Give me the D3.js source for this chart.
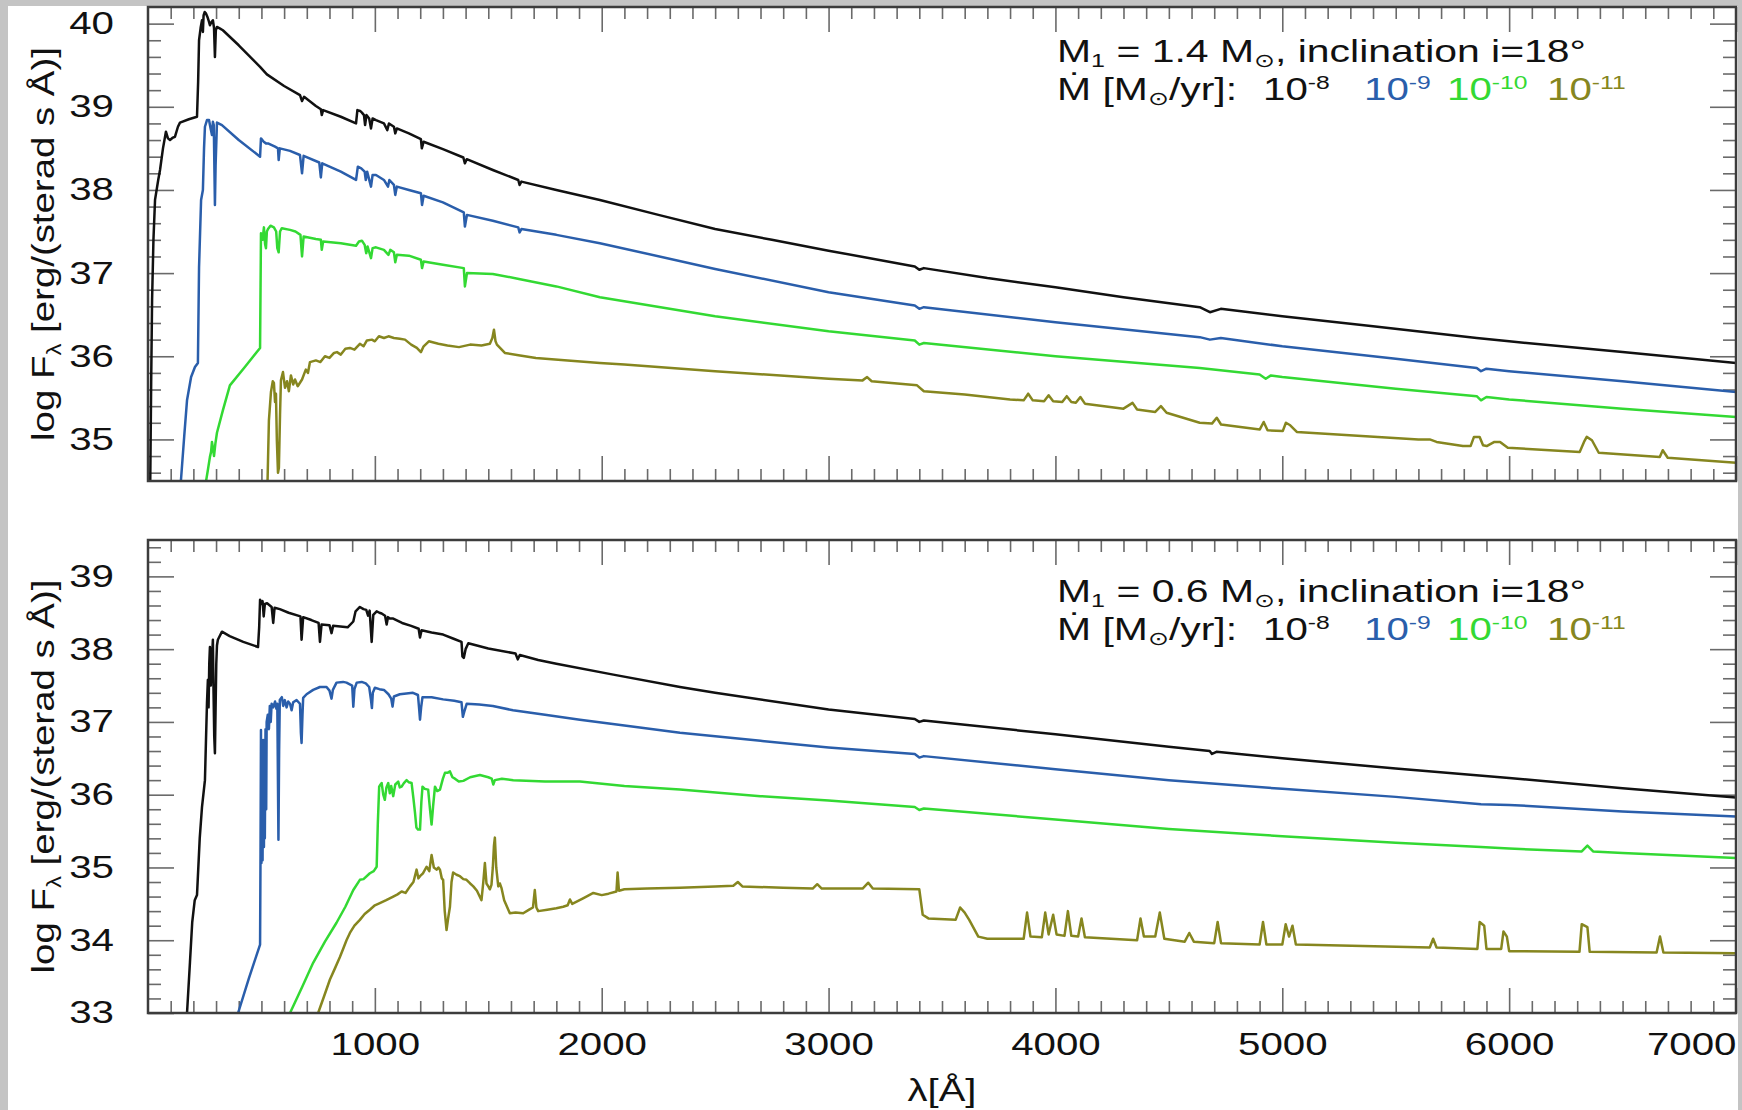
<!DOCTYPE html>
<html>
<head>
<meta charset="utf-8">
<script src="https://cdnjs.cloudflare.com/ajax/libs/d3/7.8.5/d3.min.js"></script>
<style>
    html, body { margin: 0; padding: 0; background: #c4c4c4; }
    svg { display: block; }
    text { font-family: 'Liberation Sans', Arial, sans-serif; fill: #111; }
</style>
</head>
<body>
<svg id="chart"></svg>
<script>
// tick values and labels
const wavelengthTicks = [1000, 2000, 3000, 4000, 5000, 6000, 7000];
const wavelengthLabels = ['1000', '2000', '3000', '4000', '5000', '6000', '7000'];
const topFluxTicks = [35, 36, 37, 38, 39, 40];
const bottomFluxTicks = [33, 34, 35, 36, 37, 38, 39];
const rateExponents = ['-8', '-9', '-10', '-11'];
const panelMasses = ['1.4', '0.6'];

// M1 = 1.4 Msun, [lambda (A), log F]
const top_e8 = [[10,34.5],[14,35.7],[18,36.68],[24,37.4],[31,37.88],[45,38.12],[53,38.24],[66,38.5],[79,38.7],[88,38.62],[97,38.6],[110,38.63],[119,38.64],[132,38.76],[141,38.81],[180,38.85],[216,38.88],[221,39.3],[225,39.8],[232,39.95],[238,40.04],[242,39.9],[245,40.1],[250,40.14],[256,40.12],[262,40.08],[268,40.03],[273,39.98],[280,40.02],[286,40.04],[291,39.95],[295,39.6],[299,39.92],[304,39.96],[318,39.94],[330,39.92],[400,39.74],[494,39.48],[524,39.39],[600,39.25],[670,39.14],[679,39.07],[688,39.12],[740,39.01],[762,38.97],[766,38.9],[772,38.96],[850,38.88],[917,38.8],[923,38.96],[935,38.95],[943,38.93],[952,38.9],[957,38.78],[963,38.9],[975,38.86],[983,38.74],[990,38.86],[1005,38.84],[1040,38.8],[1055,38.72],[1062,38.8],[1084,38.76],[1090,38.68],[1097,38.74],[1150,38.68],[1203,38.61],[1207,38.5],[1215,38.58],[1300,38.49],[1390,38.39],[1397,38.32],[1405,38.37],[1520,38.24],[1632,38.12],[1638,38.06],[1646,38.1],[1800,38.0],[1992,37.88],[2250,37.7],[2500,37.53],[2750,37.4],[3000,37.27],[3380,37.08],[3400,37.04],[3420,37.06],[3700,36.94],[4000,36.83],[4300,36.71],[4636,36.59],[4681,36.53],[4729,36.57],[5000,36.48],[5400,36.36],[5857,36.22],[6000,36.18],[6500,36.05],[7000,35.92]];
const top_e9 = [[145,34.5],[160,35.05],[172,35.47],[190,35.75],[207,35.87],[220,35.92],[225,37.07],[234,37.88],[242,38.0],[247,38.5],[251,38.76],[260,38.84],[269,38.84],[276,38.74],[282,38.66],[286,38.82],[290,38.78],[293,38.2],[295,37.82],[298,38.3],[304,38.81],[326,38.78],[400,38.6],[494,38.4],[498,38.62],[510,38.58],[520,38.56],[529,38.56],[560,38.52],[573,38.5],[576,38.36],[581,38.5],[626,38.47],[670,38.42],[679,38.2],[686,38.41],[755,38.33],[762,38.15],[768,38.32],[850,38.22],[917,38.12],[925,38.28],[940,38.26],[955,38.22],[960,38.12],[966,38.22],[983,38.04],[990,38.18],[1005,38.18],[1040,38.12],[1058,38.04],[1064,38.12],[1084,38.06],[1090,37.94],[1097,38.04],[1150,38.0],[1203,37.96],[1208,37.82],[1215,37.93],[1300,37.85],[1392,37.73],[1397,37.56],[1406,37.7],[1520,37.63],[1632,37.55],[1638,37.49],[1646,37.53],[1800,37.46],[1992,37.36],[2500,37.05],[3000,36.77],[3380,36.61],[3400,36.57],[3420,36.59],[4000,36.41],[4636,36.23],[4681,36.2],[4729,36.22],[5000,36.12],[5500,35.97],[5857,35.86],[5876,35.82],[5900,35.85],[6000,35.82],[6500,35.7],[7000,35.57]];
const top_e10 = [[256,34.5],[265,34.65],[273,34.79],[278,34.85],[282,34.97],[286,34.9],[291,34.8],[297,34.95],[304,35.08],[330,35.35],[361,35.65],[427,35.87],[494,36.1],[498,37.48],[505,37.4],[511,37.55],[516,37.35],[520,37.3],[524,37.5],[529,37.53],[540,37.57],[555,37.55],[565,37.5],[570,37.3],[576,37.25],[582,37.5],[590,37.54],[626,37.52],[650,37.5],[672,37.46],[679,37.2],[686,37.44],[740,37.41],[762,37.4],[766,37.28],[772,37.38],[850,37.36],[917,37.33],[930,37.38],[943,37.39],[955,37.34],[962,37.24],[968,37.32],[983,37.18],[990,37.3],[1005,37.31],[1040,37.28],[1060,37.22],[1068,37.28],[1084,37.25],[1090,37.13],[1097,37.22],[1150,37.21],[1203,37.16],[1208,37.06],[1215,37.14],[1300,37.1],[1392,37.06],[1397,36.84],[1406,37.0],[1520,36.99],[1635,36.93],[1800,36.84],[1992,36.71],[2500,36.48],[3000,36.3],[3380,36.19],[3400,36.14],[3420,36.16],[4000,36.0],[4636,35.86],[4900,35.78],[4927,35.73],[4950,35.77],[5000,35.75],[5500,35.61],[5857,35.52],[5876,35.47],[5900,35.51],[6000,35.48],[6500,35.37],[7000,35.27]];
const top_e11 = [[527,34.5],[533,35.23],[542,35.57],[550,35.7],[555,35.68],[560,35.45],[564,35.55],[568,34.99],[573,34.6],[577,34.66],[582,35.3],[586,35.71],[595,35.81],[604,35.62],[613,35.7],[621,35.58],[630,35.77],[640,35.66],[648,35.72],[660,35.64],[679,35.72],[690,35.8],[696,35.84],[705,35.8],[714,35.93],[740,35.95],[760,35.93],[780,36.0],[800,35.98],[820,36.04],[833,36.05],[850,36.02],[870,36.09],[890,36.1],[910,36.08],[934,36.15],[950,36.12],[965,36.19],[987,36.2],[1000,36.18],[1018,36.24],[1040,36.22],[1060,36.24],[1084,36.22],[1110,36.21],[1133,36.2],[1160,36.14],[1185,36.1],[1203,36.05],[1215,36.12],[1238,36.18],[1280,36.15],[1320,36.13],[1371,36.11],[1420,36.14],[1470,36.13],[1507,36.15],[1518,36.22],[1525,36.32],[1532,36.18],[1538,36.14],[1573,36.04],[1640,36.01],[1710,35.98],[1850,35.95],[1992,35.92],[2100,35.9],[2500,35.82],[3000,35.73],[3150,35.71],[3170,35.75],[3190,35.7],[3390,35.65],[3420,35.58],[3600,35.54],[3800,35.48],[3860,35.47],[3880,35.55],[3900,35.47],[3950,35.46],[3970,35.53],[3990,35.46],[4030,35.45],[4050,35.52],[4070,35.45],[4090,35.44],[4110,35.51],[4130,35.43],[4300,35.37],[4340,35.44],[4360,35.36],[4440,35.33],[4465,35.4],[4490,35.32],[4636,35.2],[4690,35.19],[4711,35.26],[4730,35.18],[4901,35.12],[4918,35.21],[4935,35.11],[5002,35.1],[5016,35.2],[5035,35.17],[5064,35.09],[5600,35.0],[5650,35.0],[5680,34.97],[5796,34.92],[5830,34.92],[5845,35.03],[5870,35.03],[5885,34.93],[5901,34.92],[5935,34.97],[5960,34.97],[5994,34.9],[6311,34.85],[6330,34.97],[6342,35.03],[6365,34.99],[6395,34.84],[6664,34.79],[6677,34.87],[6699,34.78],[7000,34.72]];

// M1 = 0.6 Msun, [lambda (A), log F]
const bot_e8 = [[172,33.0],[185,33.7],[195,34.25],[206,34.55],[216,34.62],[228,35.4],[238,35.83],[251,36.2],[256,36.8],[260,37.26],[264,37.58],[267,37.2],[270,37.8],[273,38.03],[277,37.5],[280,37.9],[284,38.0],[286,38.13],[289,37.4],[292,36.8],[295,36.57],[298,37.2],[301,37.8],[304,38.05],[308,38.13],[326,38.24],[360,38.18],[420,38.1],[485,38.03],[490,38.3],[494,38.68],[500,38.62],[505,38.66],[510,38.45],[515,38.62],[525,38.63],[537,38.6],[545,38.58],[552,38.36],[558,38.57],[581,38.55],[620,38.5],[672,38.45],[677,38.13],[684,38.44],[720,38.4],[752,38.36],[758,38.1],[765,38.34],[800,38.33],[809,38.22],[816,38.32],[880,38.3],[905,38.38],[915,38.52],[934,38.58],[950,38.55],[962,38.54],[970,38.46],[977,38.53],[986,38.1],[993,38.47],[1008,38.52],[1020,38.5],[1030,38.49],[1045,38.46],[1052,38.34],[1058,38.44],[1066,38.42],[1081,38.42],[1120,38.36],[1160,38.32],[1193,38.28],[1199,38.16],[1206,38.26],[1250,38.23],[1301,38.2],[1350,38.14],[1382,38.1],[1386,37.9],[1392,37.88],[1400,38.0],[1412,38.08],[1500,38.01],[1620,37.94],[1630,37.86],[1639,37.92],[1720,37.85],[1800,37.8],[2051,37.65],[2345,37.48],[2500,37.4],[3000,37.17],[3380,37.04],[3400,37.0],[3420,37.02],[4000,36.83],[4500,36.66],[4680,36.6],[4690,36.56],[4710,36.59],[5000,36.5],[5500,36.36],[6000,36.23],[6500,36.09],[7000,35.96]];
const bot_e9 = [[397,33.0],[445,33.48],[494,33.94],[496,35.2],[498,36.89],[500,35.06],[503,36.6],[505,35.1],[508,36.75],[511,35.28],[513,36.5],[515,35.4],[518,36.9],[521,35.8],[523,37.0],[528,37.1],[533,36.9],[537,37.22],[541,37.0],[545,37.25],[552,37.2],[560,37.28],[566,37.18],[570,37.25],[572,36.5],[575,35.38],[578,36.6],[581,37.3],[590,37.34],[596,37.22],[603,37.3],[611,37.2],[618,37.28],[626,37.25],[633,37.16],[640,37.27],[655,37.3],[670,37.25],[674,36.85],[677,36.71],[681,37.1],[684,37.33],[699,37.38],[728,37.44],[758,37.48],[787,37.48],[800,37.43],[809,37.32],[815,37.44],[831,37.54],[860,37.55],[875,37.54],[900,37.5],[905,37.21],[910,37.45],[920,37.54],[942,37.55],[960,37.53],[975,37.48],[983,37.3],[987,37.19],[991,37.4],[1000,37.47],[1020,37.45],[1040,37.44],[1060,37.38],[1072,37.32],[1078,37.21],[1084,37.35],[1110,37.38],[1168,37.4],[1190,37.37],[1196,37.15],[1199,37.03],[1204,37.2],[1210,37.34],[1250,37.34],[1301,37.31],[1350,37.29],[1382,37.27],[1388,37.07],[1395,37.15],[1405,37.25],[1460,37.24],[1520,37.22],[1609,37.16],[1750,37.1],[1904,37.03],[2100,36.95],[2345,36.85],[2700,36.74],[3000,36.65],[3380,36.56],[3400,36.51],[3420,36.53],[4000,36.35],[4500,36.2],[5000,36.08],[5500,35.97],[5876,35.87],[6000,35.86],[6500,35.77],[7000,35.7]];
const bot_e10 = [[626,33.0],[680,33.36],[728,33.69],[780,33.98],[831,34.24],[870,34.46],[905,34.69],[934,34.83],[950,34.84],[978,34.92],[995,34.95],[1008,35.01],[1013,35.6],[1019,36.11],[1025,36.14],[1030,36.16],[1037,36.0],[1044,35.93],[1051,36.1],[1059,36.16],[1066,36.02],[1072,36.12],[1081,35.98],[1090,36.14],[1103,36.18],[1110,36.1],[1118,36.11],[1128,36.16],[1140,36.2],[1150,36.17],[1162,36.16],[1170,35.95],[1177,35.75],[1183,35.55],[1190,35.52],[1199,35.52],[1205,35.9],[1210,36.11],[1220,36.08],[1235,36.07],[1243,35.8],[1250,35.59],[1257,35.85],[1265,36.11],[1275,36.05],[1287,36.07],[1300,36.22],[1309,36.3],[1320,36.3],[1331,36.32],[1342,36.24],[1353,36.22],[1370,36.18],[1390,36.19],[1420,36.24],[1463,36.27],[1500,36.24],[1515,36.22],[1522,36.14],[1529,36.2],[1560,36.22],[1610,36.2],[1750,36.18],[1904,36.18],[2100,36.12],[2345,36.07],[2700,35.98],[3000,35.92],[3380,35.83],[3400,35.79],[3420,35.81],[4000,35.66],[4500,35.53],[5000,35.43],[5500,35.34],[5876,35.28],[6000,35.26],[6320,35.22],[6345,35.3],[6370,35.22],[6500,35.2],[7000,35.13]];
const bot_e11 = [[750,33.0],[775,33.22],[802,33.46],[825,33.62],[846,33.77],[860,33.88],[875,34.0],[890,34.1],[910,34.2],[934,34.28],[955,34.36],[978,34.42],[1000,34.48],[1022,34.51],[1050,34.55],[1081,34.6],[1100,34.63],[1118,34.67],[1135,34.65],[1155,34.74],[1170,34.8],[1184,34.97],[1192,34.85],[1199,34.88],[1212,34.92],[1228,35.01],[1240,34.95],[1250,35.17],[1260,35.0],[1272,34.97],[1280,35.0],[1287,34.97],[1295,34.85],[1301,34.83],[1308,34.4],[1316,34.14],[1323,34.3],[1331,34.46],[1338,34.8],[1345,34.93],[1360,34.9],[1375,34.88],[1390,34.84],[1404,34.83],[1420,34.78],[1434,34.74],[1450,34.68],[1470,34.55],[1478,34.8],[1485,35.06],[1492,34.78],[1500,34.74],[1507,34.7],[1514,34.76],[1520,35.0],[1525,35.3],[1529,35.41],[1535,35.0],[1544,34.74],[1551,34.78],[1558,34.72],[1570,34.55],[1595,34.37],[1620,34.38],[1654,34.37],[1680,34.42],[1697,34.45],[1705,34.69],[1712,34.45],[1720,34.4],[1760,34.42],[1800,34.44],[1830,34.46],[1850,34.48],[1860,34.56],[1870,34.5],[1920,34.58],[1963,34.65],[2000,34.62],[2030,34.64],[2065,34.67],[2070,34.93],[2076,34.68],[2100,34.7],[2200,34.71],[2345,34.72],[2500,34.74],[2580,34.75],[2600,34.8],[2620,34.74],[2800,34.72],[2930,34.71],[2950,34.77],[2970,34.71],[3150,34.71],[3175,34.79],[3195,34.71],[3400,34.7],[3415,34.35],[3440,34.3],[3560,34.28],[3580,34.45],[3600,34.38],[3620,34.28],[3660,34.05],[3700,34.02],[3860,34.02],[3875,34.38],[3890,34.05],[3940,34.04],[3955,34.38],[3970,34.08],[3990,34.35],[4005,34.08],[4040,34.06],[4055,34.4],[4070,34.06],[4100,34.05],[4115,34.3],[4130,34.04],[4360,34.0],[4375,34.3],[4390,34.05],[4440,34.05],[4460,34.38],[4480,34.02],[4570,33.98],[4590,34.1],[4610,33.98],[4700,33.96],[4715,34.25],[4730,33.96],[4900,33.94],[4915,34.25],[4930,33.94],[5000,33.94],[5015,34.22],[5030,34.05],[5045,34.2],[5060,33.94],[5650,33.9],[5665,34.02],[5680,33.9],[5860,33.88],[5870,34.25],[5890,34.2],[5900,33.88],[5965,33.88],[5975,34.12],[5990,34.05],[6000,33.85],[6310,33.84],[6320,34.22],[6345,34.18],[6355,33.84],[6650,33.83],[6665,34.05],[6680,33.83],[7000,33.82]];

const seriesColors = ['#111111', '#2a5eab', '#33d933', '#86861f'];

class SpectrumPanel {
    constructor(config, data) {
        this.config = {
            parent: config.parent,
            id: config.id,
            left: config.left,
            top: config.top,
            width: config.width,
            height: config.height,
            ydomain: config.ydomain,
            yticks: config.yticks,
            xlabels: config.xlabels || false,
            mass: config.mass,
            legend_y: config.legend_y
        };
        this.data = data;
        this.init();
    }

    init() {
        let self = this;

        self.chart = self.config.parent.append('g')
            .attr('transform', `translate(${self.config.left}, ${self.config.top})`);

        self.xscale = d3.scaleLinear()
            .domain([0, 7000])
            .range([0, self.config.width]);

        self.yscale = d3.scaleLinear()
            .domain(self.config.ydomain)
            .range([self.config.height, 0]);

        self.chart.append('clipPath')
            .attr('id', `clip-${self.config.id}`)
            .append('rect')
            .attr('width', self.config.width)
            .attr('height', self.config.height);
    }

    axes() {
        let self = this;
        const w = self.config.width, h = self.config.height;
        const [lo, hi] = self.config.ydomain;

        const xminor = d3.range(100, 7000, 100).filter(d => d % 1000 !== 0);
        const yminor = d3.range(Math.ceil(lo * 5), Math.floor(hi * 5) + 1)
            .filter(k => k % 5 !== 0 && k / 5 > lo + 1e-6 && k / 5 < hi - 1e-6)
            .map(k => k / 5);

        const tickStyle = g => {
            g.select('.domain').remove();
            g.selectAll('.tick line').attr('stroke', '#6a6a6a').attr('stroke-width', 1.6);
        };

        // minor ticks on all four sides
        self.chart.append('g').attr('transform', `translate(0, ${h})`)
            .call(d3.axisBottom(self.xscale).tickValues(xminor).tickSize(-12).tickFormat(''))
            .call(tickStyle);
        self.chart.append('g')
            .call(d3.axisTop(self.xscale).tickValues(xminor).tickSize(-12).tickFormat(''))
            .call(tickStyle);
        self.chart.append('g')
            .call(d3.axisLeft(self.yscale).tickValues(yminor).tickSize(-13).tickFormat(''))
            .call(tickStyle);
        self.chart.append('g').attr('transform', `translate(${w}, 0)`)
            .call(d3.axisRight(self.yscale).tickValues(yminor).tickSize(-13).tickFormat(''))
            .call(tickStyle);

        // major ticks
        self.xaxis_group = self.chart.append('g').attr('transform', `translate(0, ${h})`)
            .call(d3.axisBottom(self.xscale)
                .tickValues(wavelengthTicks)
                .tickSize(-25)
                .tickPadding(20)
                .tickFormat((d, i) => self.config.xlabels ? wavelengthLabels[i] : ''))
            .call(tickStyle);
        self.xaxis_group.attr('font-size', 31);
        self.xaxis_group.selectAll('text')
            .attr('fill', '#111')
            .attr('transform', 'scale(1.3, 1)');
        self.xaxis_group.selectAll('text')
            .filter(d => d === 7000)
            .attr('text-anchor', 'end');

        self.chart.append('g')
            .call(d3.axisTop(self.xscale).tickValues(wavelengthTicks).tickSize(-25).tickFormat(''))
            .call(tickStyle);

        self.yaxis_group = self.chart.append('g')
            .call(d3.axisLeft(self.yscale)
                .tickValues(self.config.yticks)
                .tickSize(-26)
                .tickFormat(d3.format('d')))
            .call(tickStyle);
        self.yaxis_group.attr('font-size', 31);
        self.yaxis_group.selectAll('text')
            .attr('fill', '#111')
            .attr('x', 0)
            .attr('transform', 'translate(-34, 0) scale(1.3, 1)');

        self.chart.append('g').attr('transform', `translate(${w}, 0)`)
            .call(d3.axisRight(self.yscale).tickValues(self.config.yticks).tickSize(-26).tickFormat(''))
            .call(tickStyle);

        // y title
        const yt = self.chart.append('text')
            .attr('transform', `translate(-94, ${h / 2}) rotate(-90) scale(1.2, 1)`)
            .attr('text-anchor', 'middle')
            .attr('font-size', 32);
        yt.append('tspan').text('log F');
        yt.append('tspan').attr('font-size', 20).attr('dy', 7).text('λ');
        yt.append('tspan').attr('dy', -7).text(' [erg/(sterad s Å)]');
    }

    legend() {
        let self = this;
        const ly1 = self.config.legend_y, ly2 = ly1 + 38;
        const g = self.chart.append('g')
            .attr('transform', `translate(${1057 - self.config.left}, 0)`);

        const l1 = g.append('text')
            .attr('transform', `translate(0, ${ly1}) scale(1.32, 1)`)
            .attr('font-size', 31);
        l1.append('tspan').text('M');
        l1.append('tspan').attr('font-size', 19).attr('dy', 5).text('1');
        l1.append('tspan').attr('dy', -5).text(` = ${self.config.mass} M`);
        l1.append('tspan').attr('font-size', 19).attr('dy', 5).attr('font-family', 'DejaVu Sans').text('⊙');
        l1.append('tspan').attr('dy', -5).text(', inclination i=18°');

        const l2 = g.append('text')
            .attr('transform', `translate(0, ${ly2}) scale(1.32, 1)`)
            .attr('font-size', 31);
        l2.append('tspan').text('Ṁ [M');
        l2.append('tspan').attr('font-size', 19).attr('dy', 5).attr('font-family', 'DejaVu Sans').text('⊙');
        l2.append('tspan').attr('dy', -5).text('/yr]:');

        const offsets = [206, 307, 390, 490];
        rateExponents.forEach((e, i) => {
            const t = g.append('text')
                .attr('transform', `translate(${offsets[i]}, ${ly2}) scale(1.3, 1)`)
                .attr('font-size', 31)
                .style('fill', seriesColors[i]);
            t.append('tspan').text('10');
            t.append('tspan').attr('font-size', 19).attr('dy', -11).text(e);
        });
    }

    render() {
        let self = this;

        self.axes();

        const line = d3.line()
            .x(d => self.xscale(d[0]))
            .y(d => self.yscale(d[1]));

        self.chart.append('g')
            .attr('clip-path', `url(#clip-${self.config.id})`)
            .selectAll('path')
            .data(self.data)
            .enter()
            .append('path')
            .attr('d', d => line(d))
            .attr('fill', 'none')
            .attr('stroke', (d, i) => seriesColors[i])
            .attr('stroke-width', 2.5)
            .attr('stroke-linejoin', 'round');

        self.chart.append('rect')
            .attr('width', self.config.width)
            .attr('height', self.config.height)
            .attr('fill', 'none')
            .attr('stroke', '#3c3c3c')
            .attr('stroke-width', 2.5);

        self.legend();
    }
}

const svg = d3.select('#chart')
    .attr('width', 1742)
    .attr('height', 1110);

svg.append('rect')
    .attr('width', 1742)
    .attr('height', 1110)
    .attr('fill', '#c4c4c4');
svg.append('rect')
    .attr('x', 8)
    .attr('y', 6)
    .attr('width', 1730)
    .attr('height', 1104)
    .attr('fill', '#ffffff');

const topPanel = new SpectrumPanel({
    parent: svg, id: 'top', left: 148, top: 7, width: 1588, height: 474,
    ydomain: [34.5, 40.2], yticks: topFluxTicks, mass: panelMasses[0], legend_y: 55
}, [top_e8, top_e9, top_e10, top_e11]);
topPanel.render();

const bottomPanel = new SpectrumPanel({
    parent: svg, id: 'bottom', left: 148, top: 540, width: 1588, height: 473,
    ydomain: [33, 39.5], yticks: bottomFluxTicks, xlabels: true, mass: panelMasses[1], legend_y: 62
}, [bot_e8, bot_e9, bot_e10, bot_e11]);
bottomPanel.render();

bottomPanel.chart.append('text')
    .attr('transform', `translate(${1588 / 2}, 561) scale(1.25, 1)`)
    .attr('text-anchor', 'middle')
    .attr('font-size', 32)
    .text('λ[Å]');
</script>
</body>
</html>
